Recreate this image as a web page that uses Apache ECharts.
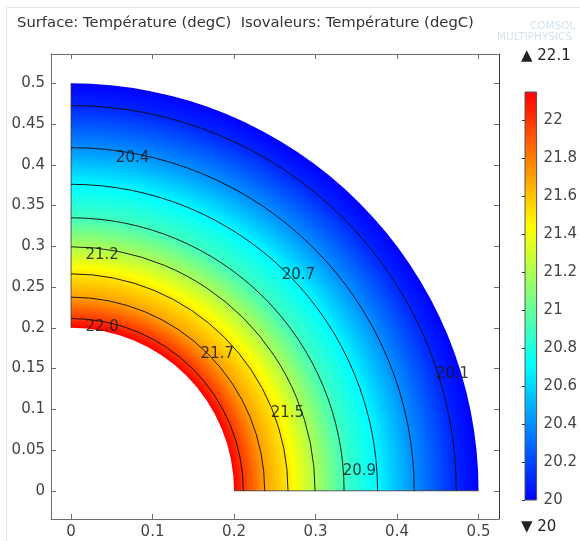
<!DOCTYPE html>
<html>
<head>
<meta charset="utf-8">
<script src="https://cdn.jsdelivr.net/npm/echarts@6/dist/echarts.min.js"></script>
<style>
  html, body { margin: 0; padding: 0; background: #ffffff; }
  #chart { width: 580px; height: 541px; }
</style>
</head>
<body>
<div id="chart"></div>
<script>
// Radial temperature profile across the quarter annulus (r in m, T in degC)
const profileRadius = [0.2, 0.2114, 0.2376, 0.2662, 0.2994, 0.3350, 0.3761, 0.4211, 0.4727, 0.5];
const profileTemp   = [22.15, 22.0, 21.7, 21.5, 21.2, 20.9, 20.7, 20.4, 20.1, 20.0];

// Isotherms: level, printed label and polar angle (deg) of the label anchor
const contourLevels = [22.0, 21.7, 21.5, 21.2, 20.9, 20.7, 20.4, 20.1];
const contourLabels = ['22.0', '21.7', '21.5', '21.2', '20.9', '20.7', '20.4', '20.1'];
const labelAngles   = [85.2, 48.0, 23.0, 86.6, 5.8, 46.6, 82.5, 18.8];

// Axis ticks
const xTicks = [0, 0.1, 0.2, 0.3, 0.4, 0.5];
const yTicks = [0, 0.05, 0.1, 0.15, 0.2, 0.25, 0.3, 0.35, 0.4, 0.45, 0.5];
const colorbarTicks = [20, 20.2, 20.4, 20.6, 20.8, 21, 21.2, 21.4, 21.6, 21.8, 22];

// Colour range and rainbow colour table
const tempMin = 20.0;
const tempMax = 22.15;
const rangeMaxText = '22.1';
const rangeMinText = '20';
const rainbow = ['#0000ff', '#00ffff', '#ffff00', '#ff0000'];

const FONT = 'DejaVu Sans';

function hexToRgb(h) {
  return [parseInt(h.slice(1, 3), 16), parseInt(h.slice(3, 5), 16), parseInt(h.slice(5, 7), 16)];
}
function rainbowColor(t) {
  const f = Math.min(1, Math.max(0, (t - tempMin) / (tempMax - tempMin)));
  const n = rainbow.length - 1;
  const k = Math.min(n - 1, Math.floor(f * n));
  const u = f * n - k;
  const a = hexToRgb(rainbow[k]), b = hexToRgb(rainbow[k + 1]);
  const c = a.map((v, i) => Math.round(v + (b[i] - v) * u));
  return 'rgb(' + c.join(',') + ')';
}
// temperatures where the rainbow table has its knots
const knotTemps = rainbow.slice(1, -1).map((_, i) => tempMin + (tempMax - tempMin) * (i + 1) / (rainbow.length - 1));

// bands between consecutive profile samples
const bandData = [];
for (let i = 0; i < profileRadius.length - 1; i++) {
  bandData.push([profileRadius[i], profileRadius[i + 1], profileTemp[i], profileTemp[i + 1]]);
}
const contourData = contourLevels.map((lv, i) => [lv, labelAngles[i], i]);

function radiusOfLevel(level) {
  for (let i = 0; i < profileTemp.length - 1; i++) {
    const a = profileTemp[i], b = profileTemp[i + 1];
    if ((level - a) * (level - b) <= 0 && a !== b) {
      return profileRadius[i] + (level - a) / (b - a) * (profileRadius[i + 1] - profileRadius[i]);
    }
  }
  return profileRadius[profileRadius.length - 1];
}

function renderBand(params, api) {
  const r0 = api.value(0), r1 = api.value(1), t0 = api.value(2), t1 = api.value(3);
  const o = api.coord([0, 0]);
  const px = r => api.coord([r, 0])[0] - o[0];
  const R0 = px(r0), R1 = px(r1);
  const stops = [{ offset: R0 / R1, color: rainbowColor(t0) }];
  knotTemps.forEach(tk => {
    if ((tk - t0) * (tk - t1) < 0) {
      const rk = r0 + (tk - t0) / (t1 - t0) * (r1 - r0);
      stops.push({ offset: px(rk) / R1, color: rainbowColor(tk) });
    }
  });
  stops.push({ offset: 1, color: rainbowColor(t1) });
  stops.sort((a, b) => a.offset - b.offset);
  const last = params.dataIndex === bandData.length - 1;
  const edge = { stroke: 'rgba(40,40,40,0.75)', lineWidth: 1 };
  return {
    type: 'group',
    silent: true,
    children: [
      {
        type: 'sector',
        shape: { cx: o[0], cy: o[1], r0: R0, r: last ? R1 : R1 + 0.6, startAngle: -Math.PI / 2, endAngle: 0, clockwise: true },
        style: { fill: { type: 'radial', x: o[0], y: o[1], r: R1, colorStops: stops, global: true } }
      },
      { type: 'line', shape: { x1: o[0] + R0, y1: o[1], x2: o[0] + R1, y2: o[1] }, style: edge },
      { type: 'line', shape: { x1: o[0], y1: o[1] - R0, x2: o[0], y2: o[1] - R1 }, style: edge }
    ]
  };
}

function renderContour(params, api) {
  const level = api.value(0), ang = api.value(1) * Math.PI / 180, idx = api.value(2);
  const o = api.coord([0, 0]);
  const R = api.coord([radiusOfLevel(level), 0])[0] - o[0];
  return {
    type: 'group',
    silent: true,
    children: [
      {
        type: 'arc',
        shape: { cx: o[0], cy: o[1], r: R, startAngle: -Math.PI / 2, endAngle: 0, clockwise: true },
        style: { stroke: 'rgba(10,10,10,0.9)', fill: null, lineWidth: 1 }
      },
      {
        type: 'text',
        style: {
          text: contourLabels[idx],
          x: o[0] + R * Math.cos(ang),
          y: o[1] - R * Math.sin(ang),
          align: 'left', verticalAlign: 'top',
          fill: 'rgba(25,25,25,0.85)',
          font: '15px "' + FONT + '"'
        }
      }
    ]
  };
}

function renderColorbar(params, api) {
  const lo = api.value(0), hi = api.value(1);
  const p0 = api.coord([0, hi]);
  const p1 = api.coord([1, lo]);
  const stops = rainbow.map((c, i) => ({ offset: 1 - i / (rainbow.length - 1), color: c }));
  return {
    type: 'rect',
    silent: true,
    shape: { x: p0[0], y: p0[1], width: p1[0] - p0[0], height: p1[1] - p0[1] },
    style: {
      fill: { type: 'linear', x: 0, y: 0, x2: 0, y2: 1, colorStops: stops.reverse() },
      stroke: '#555', lineWidth: 1
    }
  };
}

const axisLineStyle = { color: '#6e6e6e', width: 1 };
const tickLabelStyle = { color: '#444', fontSize: 15, fontFamily: FONT };
const fmt = v => String(v);

const chart = echarts.init(document.getElementById('chart'), null, { renderer: 'canvas' });
chart.setOption({
  animation: false,
  backgroundColor: '#ffffff',
  title: {
    text: 'Surface: Température (degC)  Isovaleurs: Température (degC)',
    left: 12, top: 11,
    textStyle: { fontSize: 14.8, fontWeight: 'normal', fontFamily: FONT, color: '#333' }
  },
  graphic: [
    { type: 'rect', silent: true, shape: { x: 6.5, y: 7.5, width: 600, height: 600 }, style: { fill: null, stroke: '#e6e6e6', lineWidth: 1 } },
    { type: 'text', silent: true, left: 530, top: 21, style: { text: 'COMSOL', fill: '#d4e3ef', font: '10.5px "' + FONT + '"' } },
    { type: 'text', silent: true, left: 497, top: 32, style: { text: 'MULTIPHYSICS', fill: '#d4e3ef', font: '10.5px "' + FONT + '"' } },
    { type: 'text', silent: true, left: 521, top: 49, style: { text: '▲ ' + rangeMaxText, fill: '#222', font: '15px "' + FONT + '"' } },
    { type: 'text', silent: true, left: 521, top: 520, style: { text: '▼ ' + rangeMinText, fill: '#222', font: '15px "' + FONT + '"' } }
  ],
  grid: [
    { left: 51, top: 54, width: 448, height: 465, show: false },
    { left: 525, top: 92, width: 15, height: 408, show: false }
  ],
  xAxis: [
    {
      gridIndex: 0, type: 'value', min: -0.0246, max: 0.5251, position: 'bottom',
      axisLine: { show: true, onZero: false, lineStyle: axisLineStyle },
      axisTick: { show: true, inside: true, length: 5, customValues: xTicks, lineStyle: axisLineStyle },
      axisLabel: { show: true, customValues: xTicks, formatter: fmt, margin: 6, ...tickLabelStyle },
      splitLine: { show: false }
    },
    {
      gridIndex: 0, type: 'value', min: -0.0246, max: 0.5251, position: 'top',
      axisLine: { show: true, onZero: false, lineStyle: axisLineStyle },
      axisTick: { show: true, inside: true, length: 5, customValues: xTicks, lineStyle: axisLineStyle },
      axisLabel: { show: false },
      splitLine: { show: false }
    },
    { gridIndex: 1, type: 'value', min: 0, max: 1, show: false }
  ],
  yAxis: [
    {
      gridIndex: 0, type: 'value', min: -0.0346, max: 0.5360, position: 'left',
      axisLine: { show: true, onZero: false, lineStyle: axisLineStyle },
      axisTick: { show: true, inside: true, length: 5, customValues: yTicks, lineStyle: axisLineStyle },
      axisLabel: { show: true, customValues: yTicks, formatter: fmt, margin: 6, ...tickLabelStyle },
      splitLine: { show: false }
    },
    {
      gridIndex: 0, type: 'value', min: -0.0346, max: 0.5360, position: 'right',
      axisLine: { show: true, onZero: false, lineStyle: { color: '#333', width: 1 } },
      axisTick: { show: true, inside: true, length: 5, customValues: yTicks, lineStyle: axisLineStyle },
      axisLabel: { show: false },
      splitLine: { show: false }
    },
    {
      gridIndex: 1, type: 'value', min: tempMin, max: tempMax, position: 'right',
      axisLine: { show: false },
      axisTick: { show: true, inside: true, length: 3, customValues: colorbarTicks, lineStyle: { color: '#333' } },
      axisLabel: { show: true, customValues: colorbarTicks, formatter: fmt, margin: 7, ...tickLabelStyle },
      splitLine: { show: false }
    }
  ],
  series: [
    { type: 'custom', name: 'surface', xAxisIndex: 0, yAxisIndex: 0, renderItem: renderBand, data: bandData, z: 2 },
    { type: 'custom', name: 'isovalues', xAxisIndex: 0, yAxisIndex: 0, renderItem: renderContour, data: contourData, z: 3 },
    { type: 'custom', name: 'colorbar', xAxisIndex: 2, yAxisIndex: 2, renderItem: renderColorbar, data: [[tempMin, tempMax]], z: 2 }
  ]
});
</script>
</body>
</html>
